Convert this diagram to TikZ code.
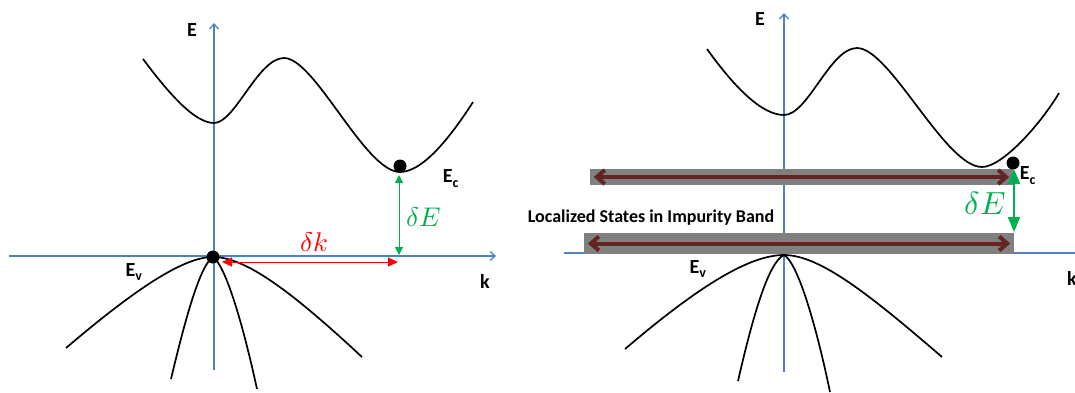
\documentclass[tikz,border=0pt]{standalone}
\usepackage{fontspec}
\usepackage{unicode-math}
\setmainfont{Carlito}
\setmathfont{Latin Modern Math}
\usetikzlibrary{arrows.meta}
\definecolor{axisblue}{RGB}{79,129,189}
\definecolor{dkgreen}{RGB}{0,176,80}
\definecolor{bandgray}{RGB}{128,128,128}
\definecolor{dkred}{RGB}{99,37,35}
\begin{document}
\begin{tikzpicture}[x=1pt,y=-1pt,
  axisline/.style={draw=axisblue,line width=1.3pt},
  axisarrow/.style={axisline,-{Straight Barb[length=5pt,width=9pt]}},
  bandcurve/.style={draw=black,line width=1.7pt},
  lbl/.style={font=\fontsize{20}{22}\selectfont\bfseries,inner sep=0pt},
  blackdot/.style={circle,fill=black,inner sep=0pt,minimum size=13pt},
  bandbox/.style={fill=bandgray,inner sep=0pt},
  bandarrow/.style={draw=dkred,line width=4pt,
     {Straight Barb[length=8pt,width=14pt]}-{Straight Barb[length=8pt,width=14pt]}},
  redarrow/.style={draw=red,line width=1pt,
     {Triangle[length=10pt,width=9pt]}-{Triangle[length=10pt,width=9pt]}},
  greenarrowA/.style={draw=dkgreen,line width=1pt,
     {Triangle[length=8pt,width=8pt]}-{Triangle[length=8pt,width=8pt]}},
  greenarrowB/.style={draw=dkgreen,line width=2pt,
     {Triangle[length=15pt,width=12pt]}-{Triangle[length=15pt,width=12pt]}},
  mathlbl/.style={inner sep=0pt}]
\useasboundingbox (0,0) rectangle (1075,392);

% ---------------- left panel ----------------
\coordinate (LxL) at (9,256);
\coordinate (LxR) at (496,256);
\coordinate (LyB) at (214,370);
\coordinate (LyT) at (214,23);
\draw[axisarrow] (LxL) -- (LxR);
\draw[axisarrow] (LyB) -- (LyT);

\draw[bandcurve] (143,59) .. controls (170,95) and (195,123) .. (214,123)
  .. controls (235,123) and (258,58) .. (284,58)
  .. controls (315,58) and (365,172) .. (400,172)
  .. controls (425,172) and (455,130) .. (473,102);
\draw[bandcurve] (66,348) .. controls (140,285) and (185,257) .. (213,257)
  .. controls (245,257) and (290,290) .. (362,357);
\draw[bandcurve] (171,379) .. controls (185,320) and (200,265) .. (213,257)
  .. controls (225,265) and (242,320) .. (257,389);

\node[lbl] (LE) at (192,30) {E};
\node[lbl] (Lk) at (485,281) {k};
\node[lbl] (LEv) at (134,272) {E\textsubscript{v}};
\node[lbl] (LEc) at (451,179) {E\textsubscript{c}};

\node[blackdot] (Ldv) at (213,257) {};
\node[blackdot] (Ldc) at (400,166) {};

\coordinate (Lk1) at (222,262);
\coordinate (Lk2) at (398,262);
\draw[redarrow] (Lk1) -- (Lk2);
\node[mathlbl,text=red,font=\fontsize{27}{30}\selectfont] (Ldk) at (314,242) {$\delta k$};

\coordinate (LdE1) at (399,175);
\coordinate (LdE2) at (399,255);
\draw[greenarrowA] (LdE1) -- (LdE2);
\node[mathlbl,text=dkgreen,font=\fontsize{27}{30}\selectfont] (LdE) at (424,217) {$\delta E$};

% ---------------- right panel ----------------
\coordinate (RxL) at (564,253);
\coordinate (RxR) at (1080,253);
\coordinate (RyB) at (784,372);
\coordinate (RyT) at (784,13);
\draw[axisline] (RxL) -- (RxR);
\draw[axisarrow] (RyB) -- (RyT);

\node[bandbox,minimum width=423pt,minimum height=16pt] (RB1) at (801.5,177) {};
\node[bandbox,minimum width=430pt,minimum height=21pt] (RB2) at (799,243.5) {};
\draw[bandarrow] ([xshift=4pt]RB1.west) -- ([xshift=-4pt]RB1.east);
\draw[bandarrow] ([xshift=4pt]RB2.west) -- ([xshift=-4pt]RB2.east);

\draw[bandcurve] (707,49) .. controls (735,88) and (762,115) .. (784,115)
  .. controls (808,115) and (830,48) .. (857,48)
  .. controls (890,48) and (945,167) .. (982,167)
  .. controls (1002,167) and (1040,125) .. (1059,93);
\draw[bandcurve] (625,349) .. controls (700,285) and (750,255) .. (784,255)
  .. controls (820,255) and (870,295) .. (942,357);
\draw[bandcurve] (738,381) .. controls (752,320) and (768,262) .. (784,255)
  .. controls (797,262) and (815,320) .. (830,392);

\node[lbl,font=\fontsize{18}{20}\selectfont\bfseries] (Rloc) at (651,218) {Localized States in Impurity Band};
\node[lbl] (RE) at (760,19) {E};
\node[lbl] (Rk) at (1072,278) {k};
\node[lbl] (REv) at (698,269) {E\textsubscript{v}};
\node[lbl] (REc) at (1028,176) {E\textsubscript{c}};

\coordinate (RdE1) at (1014,169);
\coordinate (RdE2) at (1014,232);
\draw[greenarrowB] (RdE1) -- (RdE2);
\node[mathlbl,text=dkgreen,font=\fontsize{32}{35}\selectfont] (RdE) at (985,203) {$\delta E$};

\node[blackdot] (Rdc) at (1013,163) {};
\end{tikzpicture}
\end{document}
